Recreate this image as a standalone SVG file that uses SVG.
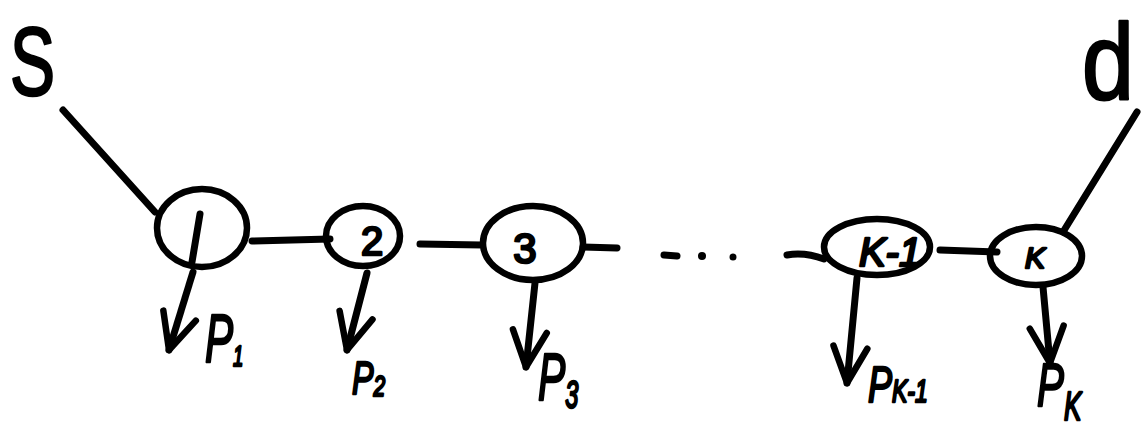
<svg xmlns="http://www.w3.org/2000/svg" width="1146" height="431" viewBox="0 0 1146 431">
<style>
.bg{fill:#fff}
.ln{fill:none;stroke:#000;stroke-width:7;stroke-linecap:round;stroke-linejoin:round}
.nd{fill:none;stroke:#000;stroke-width:6.5}
.t{font-family:"Liberation Sans",Arial,sans-serif;font-weight:normal;fill:#000;stroke:#000;stroke-width:2.5;stroke-linejoin:round}
.i{font-style:italic}
</style>
<defs>
<marker id="v" viewBox="-42 -22 48 44" markerWidth="48" markerHeight="44" refX="0" refY="0" orient="auto" markerUnits="userSpaceOnUse">
<path d="M-36,-17 L0,0 L-36,17" fill="none" stroke="#000" stroke-width="6.5" stroke-linecap="round" stroke-linejoin="round"/>
</marker>
</defs>
<rect class="bg" width="1146" height="431"/>
<g id="connectors">
<path class="ln" d="M63,110 L155,212"/>
<path class="ln" d="M1137,112 L1063,232"/>
<path class="ln" d="M252,241 L330,239"/>
<path class="ln" d="M420,244 L482,245"/>
<path class="ln" d="M583,247 L617,248"/>
<path class="ln" d="M664,255 L677,256"/>
<circle cx="702" cy="256" r="4"/>
<circle cx="733" cy="257" r="3.5"/>
<path class="ln" d="M787,255 Q805,252 824,259"/>
<path class="ln" d="M940,250 L997,252"/>
<path class="ln" d="M193,272 L169,350" marker-end="url(#v)"/>
<path class="ln" d="M367,273 L347,350" marker-end="url(#v)"/>
<path class="ln" d="M535,283 L526,367" marker-end="url(#v)"/>
<path class="ln" d="M857,278 L847,383" marker-end="url(#v)"/>
<path class="ln" d="M1043,287 L1050,363" marker-end="url(#v)"/>
</g>
<g id="s"><text class="t" x="10" y="95" font-size="96" textLength="45" lengthAdjust="spacingAndGlyphs">S</text></g>
<g id="d"><text class="t" x="1082" y="99" font-size="108" textLength="52" lengthAdjust="spacingAndGlyphs">d</text></g>
<g id="node1"><ellipse class="nd" cx="202" cy="228" rx="45" ry="39"/><path class="ln" d="M200,214 L192,262"/></g>
<g id="node2"><ellipse class="nd" cx="363" cy="236" rx="37" ry="30"/><text class="t" x="372" y="255" font-size="40" text-anchor="middle">2</text></g>
<g id="node3"><ellipse class="nd" cx="533" cy="243" rx="50" ry="37"/><text class="t" x="525" y="263" font-size="42" text-anchor="middle">3</text></g>
<g id="nodeK-1"><ellipse class="nd" cx="877" cy="247" rx="53" ry="28"/><text class="t i" x="890" y="266" font-size="40" text-anchor="middle">K-1</text></g>
<g id="nodeK"><ellipse class="nd" cx="1036" cy="256" rx="46" ry="29"/><text class="t i" x="1035" y="268" font-size="30" text-anchor="middle">K</text></g>
<g id="labels">
<text class="t i" transform="translate(205,362) scale(0.62,1)" font-size="68">P<tspan font-size="30" dy="4">1</tspan></text>
<text class="t i" transform="translate(352,394) scale(0.7,1)" font-size="46">P<tspan font-size="30" dy="2">2</tspan></text>
<text class="t i" transform="translate(538,400) scale(0.62,1)" font-size="66">P<tspan font-size="38" dy="8">3</tspan></text>
<text class="t i" transform="translate(868,402) scale(0.72,1)" font-size="50">P<tspan font-size="32" dy="0">K-1</tspan></text>
<text class="t i" transform="translate(1037,406) scale(0.65,1)" font-size="62">P<tspan font-size="40" dy="14">K</tspan></text>
</g>
</svg>
